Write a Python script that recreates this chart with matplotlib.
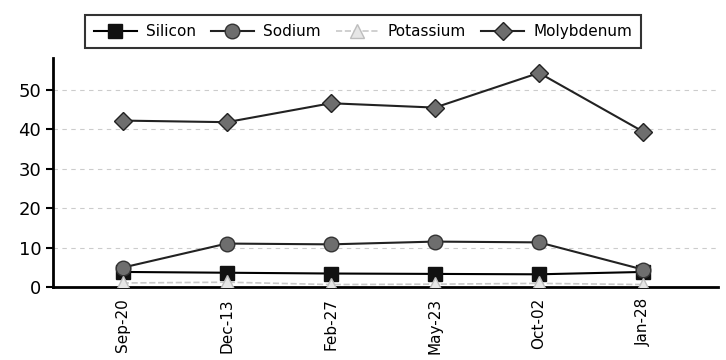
import numpy as np
import matplotlib
matplotlib.use("Agg")
import matplotlib.pyplot as plt

dates = ["Sep-20", "Dec-13", "Feb-27", "May-23", "Oct-02", "Jan-28"]
silicon = [3.8, 3.6, 3.4, 3.3, 3.2, 3.8]
sodium = [4.9, 11.0, 10.8, 11.5, 11.3, 4.4]
potassium = [1.0, 1.2, 0.6, 0.7, 0.9, 0.6]
molybdenum = [42.2, 41.8, 46.6, 45.5, 54.3, 39.4]

fig = plt.figure(figsize=(7.26, 3.6), dpi=100)
ax = fig.add_axes([0.073, 0.203, 0.916, 0.635])
x = np.arange(len(dates))

ax.plot(x, silicon, color="black", lw=1.5, marker="s", ms=10,
        mfc="#111111", mec="#111111", label="Silicon", zorder=3)
ax.plot(x, sodium, color="#222222", lw=1.5, marker="o", ms=10.5,
        mfc="#6e6e6e", mec="#333333", label="Sodium", zorder=3)
ax.plot(x, potassium, color="#c8c8c8", lw=1.2, ls="--", marker="^", ms=10,
        mfc="#e6e6e6", mec="#bdbdbd", label="Potassium", zorder=4)
ax.plot(x, molybdenum, color="#222222", lw=1.5, marker="D", ms=9,
        mfc="#6e6e6e", mec="#222222", label="Molybdenum", zorder=3)

ax.set_xticks(x)
ax.set_xticklabels(dates, rotation=90, fontsize=11)
ax.set_xlim(-0.67, 5.72)
ax.set_ylim(0, 58)
ax.set_yticks([0, 10, 20, 30, 40, 50])
ax.tick_params(axis="y", labelsize=13, width=1.5, length=5)
ax.tick_params(axis="x", length=0, pad=8)
ax.yaxis.grid(True, ls=(0, (4, 4)), color="#cccccc", lw=0.8)
ax.set_axisbelow(True)
for s in ["top", "right"]:
    ax.spines[s].set_visible(False)
ax.spines["left"].set_linewidth(2)
ax.spines["bottom"].set_linewidth(2)

leg = fig.legend(loc="upper center", bbox_to_anchor=(0.5, 0.98), ncol=4,
                 fontsize=11, frameon=True, fancybox=False, edgecolor="black",
                 handlelength=2.8, columnspacing=1.0, borderpad=0.6,
                 handletextpad=0.6)
leg.get_frame().set_linewidth(1.5)

fig.savefig("out.png", dpi=100)
